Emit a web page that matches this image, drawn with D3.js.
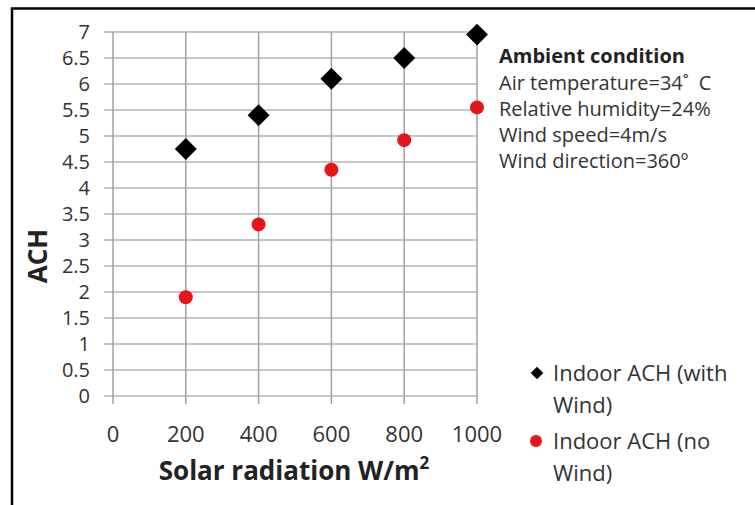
<!DOCTYPE html>
<html>
<head>
<meta charset="utf-8">
<script src="https://cdn.jsdelivr.net/npm/d3@7"></script>
<style>
  body { margin: 0; background: #fff; }
  text { font-family: "Open Sans", "Noto Sans", sans-serif; }
</style>
</head>
<body>
<script>
const width = 755
const height = 505

// data
const radiation = [200, 400, 600, 800, 1000]
const withWind = [4.75, 5.4, 6.1, 6.5, 6.95]
const noWind = [1.9, 3.3, 4.35, 4.92, 5.55]
const xTicks = [0, 200, 400, 600, 800, 1000]
const yTicks = d3.range(0, 7.01, 0.5)
const ambient = ['Air temperature=34˚\u2002C', 'Relative humidity=24%', 'Wind speed=4m/s', 'Wind direction=360º']

const svg = d3.select('body').append('svg')
  .attr('width', width)
  .attr('height', height)

// frame
svg.append('path')
  .attr('d', 'M12,505V8.5H755')
  .attr('fill', 'none')
  .attr('stroke', '#000')
  .attr('stroke-width', 2.5)

const x = d3.scaleLinear().domain([0, 1000]).range([113, 477])
const y = d3.scaleLinear().domain([0, 7]).range([396, 32])

const g = svg.append('g')

// horizontal grid
g.selectAll('.hg').data(yTicks).enter().append('line')
  .attr('x1', 104).attr('x2', x(1000))
  .attr('y1', d => y(d)).attr('y2', d => y(d))
  .attr('stroke', '#b4b4b4').attr('stroke-width', 1.5)

// vertical grid + ticks
g.selectAll('.vg').data(xTicks).enter().append('line')
  .attr('x1', d => x(d)).attr('x2', d => x(d))
  .attr('y1', y(7)).attr('y2', 404)
  .attr('stroke', '#a0a0a0').attr('stroke-width', 1.5)

// y tick labels
g.selectAll('.yl').data(yTicks).enter().append('text')
  .attr('x', 90).attr('y', d => y(d))
  .attr('dy', '0.36em')
  .attr('text-anchor', 'end')
  .attr('font-size', 20)
  .attr('fill', '#333')
  .text(d => d3.format('~g')(d))

// x tick labels
g.selectAll('.xl').data(xTicks).enter().append('text')
  .attr('x', d => x(d)).attr('y', 434)
  .attr('dy', '0.36em')
  .attr('text-anchor', 'middle')
  .attr('font-size', 22)
  .attr('fill', '#333')
  .text(d => d)

// axis titles
const xt = svg.append('text')
  .attr('x', 294).attr('y', 480)
  .attr('text-anchor', 'middle')
  .attr('font-size', 26)
  .attr('font-weight', 'bold')
  .attr('fill', '#222')
xt.append('tspan').text('Solar radiation W/m')
xt.append('tspan').attr('font-size', 17).attr('dy', -11).text('2')

svg.append('text')
  .attr('transform', 'translate(47,256) rotate(-90)')
  .attr('text-anchor', 'middle')
  .attr('font-size', 26)
  .attr('font-weight', 'bold')
  .attr('fill', '#222')
  .text('ACH')

const diamond = d3.symbol().type(d3.symbolSquare).size(240)

// series
svg.selectAll('.dw').data(radiation).enter().append('path')
  .attr('d', diamond)
  .attr('transform', (d, i) => `translate(${x(d)},${y(withWind[i])}) rotate(45)`)
  .attr('fill', '#000')

svg.selectAll('.dn').data(radiation).enter().append('circle')
  .attr('cx', d => x(d))
  .attr('cy', (d, i) => y(noWind[i]))
  .attr('r', 7)
  .attr('fill', '#e8141c')

// ambient condition text
svg.append('text')
  .attr('x', 499).attr('y', 56).attr('dy', '0.36em')
  .attr('font-size', 20).attr('font-weight', 'bold').attr('fill', '#222')
  .text('Ambient condition')
svg.selectAll('.amb').data(ambient).enter().append('text')
  .attr('x', 499).attr('y', (d, i) => 83 + i * 26).attr('dy', '0.36em')
  .attr('font-size', 20).attr('fill', '#333')
  .text(d => d)

// legend
svg.append('path')
  .attr('d', d3.symbol().type(d3.symbolSquare).size(80))
  .attr('transform', 'translate(537,373) rotate(45)')
  .attr('fill', '#000')
svg.append('circle').attr('cx', 536).attr('cy', 441).attr('r', 6).attr('fill', '#e8141c')

const legendLines = [['Indoor ACH (with', 373], ['Wind)', 405], ['Indoor ACH (no', 441], ['Wind)', 473]]
svg.selectAll('.lg').data(legendLines).enter().append('text')
  .attr('x', 553).attr('y', d => d[1]).attr('dy', '0.36em')
  .attr('font-size', 22).attr('fill', '#333')
  .text(d => d[0])
</script>
</body>
</html>
